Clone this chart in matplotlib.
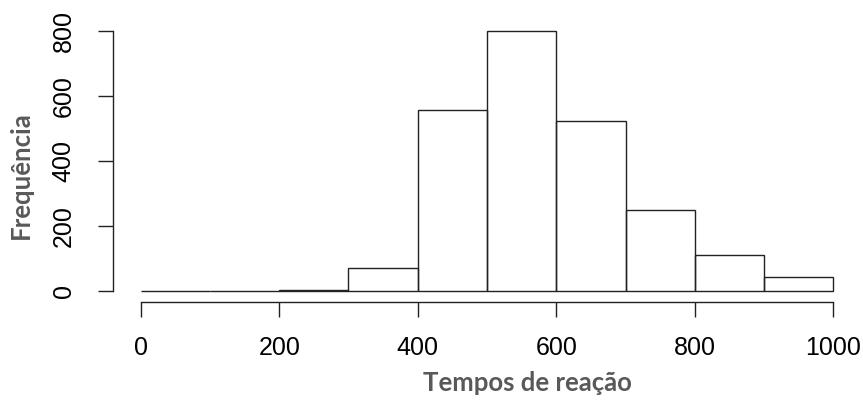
import matplotlib.pyplot as plt

# histogram of reaction times (bins of 100)
bin_edges = [0, 100, 200, 300, 400, 500, 600, 700, 800, 900, 1000]
counts = [0, 0, 4, 73, 557, 800, 523, 249, 113, 45]
x_ticks = [0, 200, 400, 600, 800, 1000]
y_ticks = [0, 200, 400, 600, 800]

plt.rcParams['font.family'] = ['Liberation Sans', 'DejaVu Sans']

fig = plt.figure(figsize=(8.63, 4.09), dpi=100)
ax = fig.add_axes([113 / 863, 1 - 301.7 / 409, 748 / 863, 281 / 409])

ax.bar(bin_edges[:-1], counts, width=100, align='edge', fill=False,
       edgecolor='#222222', linewidth=1.0)

ax.set_xlim(-40, 1040)
ax.set_ylim(-32, 832)

for side in ['top', 'right']:
    ax.spines[side].set_visible(False)
ax.spines['left'].set_bounds(0, 800)
ax.spines['bottom'].set_bounds(0, 1000)
for side in ['left', 'bottom']:
    ax.spines[side].set_linewidth(1.0)
    ax.spines[side].set_color('#222222')

ax.set_xticks(x_ticks)
ax.set_yticks(y_ticks)
ax.tick_params(length=11, width=1.0, color='#222222', labelsize=18, pad=14)
ax.tick_params(axis='y', pad=16)
for lbl in ax.get_yticklabels():
    lbl.set_rotation(90)
    lbl.set_va('center')

label_style = dict(family=['Lato', 'DejaVu Sans'], fontweight='bold',
                   fontsize=18.5, color='#595959')
fig.text(527 / 863, 1 - 383 / 409, 'Tempos de reação', ha='center', va='center', **label_style)
fig.text(21 / 863, 1 - 175 / 409, 'Frequência', ha='center', va='center', rotation=90, **label_style)

fig.savefig('out.png', dpi=100)
